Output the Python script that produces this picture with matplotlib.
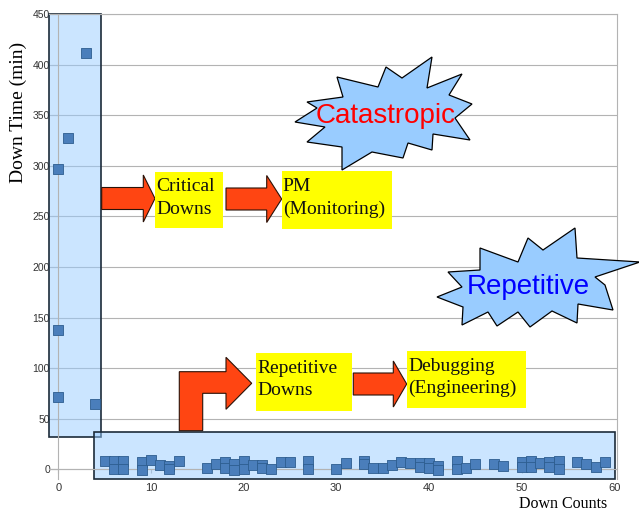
import numpy as np
import matplotlib.pyplot as plt
from matplotlib.patches import Rectangle, Polygon

W, H = 639, 521

# long downs (critical)
crit_x = [0, 1, 3, 0, 0, 4]
crit_y = [297, 327, 411, 138, 71, 65]

# short downs (repetitive)
rep_x = [5, 6, 6, 7, 7, 9, 9, 10, 11, 12, 12, 13, 16, 17, 18, 18, 19, 19, 20, 20,
         21, 22, 22, 23, 24, 25, 27, 27, 30, 31, 33, 33, 34, 35, 36, 37, 38, 39, 39,
         40, 40, 41, 41, 43, 43, 44, 45, 47, 48, 50, 50, 51, 51, 52, 53, 53, 54, 54,
         56, 57, 58, 59]
rep_y = [8.5, 8.5, 0, 8, 0, 7, -1, 9, 4.5, 3, 0, 8.5, 1.5, 5, 7, 1, 5, -1, 8.5, 0,
         4, 4, 1, 0.5, 7, 7, 8.5, 0, 0.5, 6, 8.5, 5, 1, 1, 4, 7, 6, 6, 2,
         6, 1, 3, -1, 8.5, 0, 1, 5, 5, 3, 7, 2, 8, 2, 6, 7, 2, 8, 0,
         7, 5, 2.5, 7]

xticks = list(range(0, 61, 10))
yticks = list(range(0, 451, 50))

serif = ['Liberation Serif', 'DejaVu Serif']
sans = ['Liberation Sans', 'DejaVu Sans']


def px(x, y):
    # pixel position (top-left origin) -> figure fraction
    return (x / W, 1 - y / H)


def arrow_pts(x0, x1, yc, shaft, head_x, head):
    return [px(x0, yc - shaft / 2), px(head_x, yc - shaft / 2), px(head_x, yc - head / 2),
            px(x1, yc), px(head_x, yc + head / 2), px(head_x, yc + shaft / 2),
            px(x0, yc + shaft / 2)]


fig = plt.figure(figsize=(W / 100, H / 100), dpi=100)
ax = fig.add_axes([49 / W, 1 - 479 / H, (617 - 49) / W, (479 - 14) / H])
ax.set_xlim(-1, 60.3)
ax.set_ylim(-9.6, 450)

ax.grid(axis='y', color='#b3b3b3', lw=0.8)
ax.set_axisbelow(True)
for s in ['left', 'bottom']:
    ax.spines[s].set_position(('data', 0))
for s in ax.spines.values():
    s.set_color('#b3b3b3')
    s.set_linewidth(0.8)
ax.set_xticks(xticks)
ax.set_yticks(yticks)
ax.tick_params(axis='both', colors='#b3b3b3', labelcolor='#333333', labelsize=8)
ax.tick_params(axis='y', length=5, pad=1, labelsize=7.5)
ax.tick_params(axis='x', length=3, pad=7)
for lb in ax.get_xticklabels() + ax.get_yticklabels():
    lb.set_family(sans)

# highlight boxes
ax.add_patch(Rectangle((-1, 31.6), 5.6, 450 - 31.6, facecolor=(0.6, 0.8, 1.0, 0.5),
                       edgecolor='#1c2b39', lw=1.2, clip_on=False, zorder=2))
ax.add_patch(Rectangle((3.85, -9.6), 60.05 - 3.85, 37.2 + 9.6, facecolor=(0.6, 0.8, 1.0, 0.5),
                       edgecolor='#1c2b39', lw=1.2, clip_on=False, zorder=2))

ax.scatter(crit_x, crit_y, marker='s', s=46, facecolor='#4a7ebb', edgecolor='#2d5d8f',
           lw=0.6, zorder=3, clip_on=False)
ax.scatter(rep_x, rep_y, marker='s', s=46, facecolor='#4a7ebb', edgecolor='#2d5d8f',
           lw=0.6, zorder=3, clip_on=False)

fig.text(18 / W, 1 - 112 / H, 'Down Time (min)', rotation=90, ha='center', va='center',
         fontsize=14, family=serif)
fig.text(563 / W, 1 - 504 / H, 'Down Counts', ha='center', va='center',
         fontsize=11.5, family=serif)

# arrows
red = '#ff4512'
arrows = [arrow_pts(101.7, 155, 198.5, 22, 143.3, 47),
          arrow_pts(226, 281.7, 199, 22, 266.7, 47),
          arrow_pts(353.3, 406.7, 384, 22, 393.3, 46),
          [px(179.3, 430.7), px(179.3, 371.7), px(226, 371.7), px(226, 357.3),
           px(251.7, 383.3), px(226, 409.3), px(226, 393.3), px(202.7, 393.3),
           px(202.7, 430.7)]]
for a in arrows:
    fig.add_artist(Polygon(a, closed=True, facecolor=red, edgecolor='#2a1208', lw=0.8,
                           transform=fig.transFigure))

# yellow labels
boxes = [(155, 171.7, 223.3, 228.3, 'Critical\nDowns'),
         (281.7, 170.7, 391.7, 229.3, 'PM\n(Monitoring)'),
         (256, 352.7, 352.3, 410.7, 'Repetitive\nDowns'),
         (407.3, 350.7, 525.7, 408.3, 'Debugging\n(Engineering)')]
for x0, y0, x1, y1, t in boxes:
    fig.add_artist(Rectangle(px(x0, y1), (x1 - x0) / W, (y1 - y0) / H, facecolor='#ffff00',
                             edgecolor='none', transform=fig.transFigure))
    fig.text((x0 + 1) / W, 1 - ((y0 + y1) / 2 - 2) / H, t, ha='left', va='center',
             fontsize=14, family=serif, linespacing=1.4, color='#111111')

# starbursts
star1 = [(432, 57), (427, 88), (462, 74), (449, 95), (472, 104), (455, 118), (470, 140),
         (433, 134), (432, 150), (408, 143), (403, 158), (372, 152), (342, 170), (342, 147),
         (307, 142), (325, 127), (295, 122), (317, 108), (307, 102), (343, 97), (337, 77),
         (378, 87), (386, 67), (402, 78)]
star2 = [(575, 228), (577, 258), (640, 262), (595, 277), (605, 285), (613, 310), (578, 304),
         (577, 323), (552, 311), (530, 327), (518, 312), (497, 326), (488, 312), (462, 325),
         (463, 307), (437, 297), (462, 287), (448, 272), (480, 270), (480, 248), (518, 262),
         (528, 238), (543, 250)]
for st in [star1, star2]:
    fig.add_artist(Polygon([px(x, y) for x, y in st], closed=True, facecolor='#99ccff',
                           edgecolor='black', lw=0.9, transform=fig.transFigure))

fig.text(386 / W, 1 - 116 / H, 'Catastropic', ha='center', va='center', fontsize=20,
         color='#ff0000', family=sans)
fig.text(528 / W, 1 - 287 / H, 'Repetitive', ha='center', va='center', fontsize=20,
         color='#0000ff', family=sans)

fig.savefig('out.png', dpi=100)
